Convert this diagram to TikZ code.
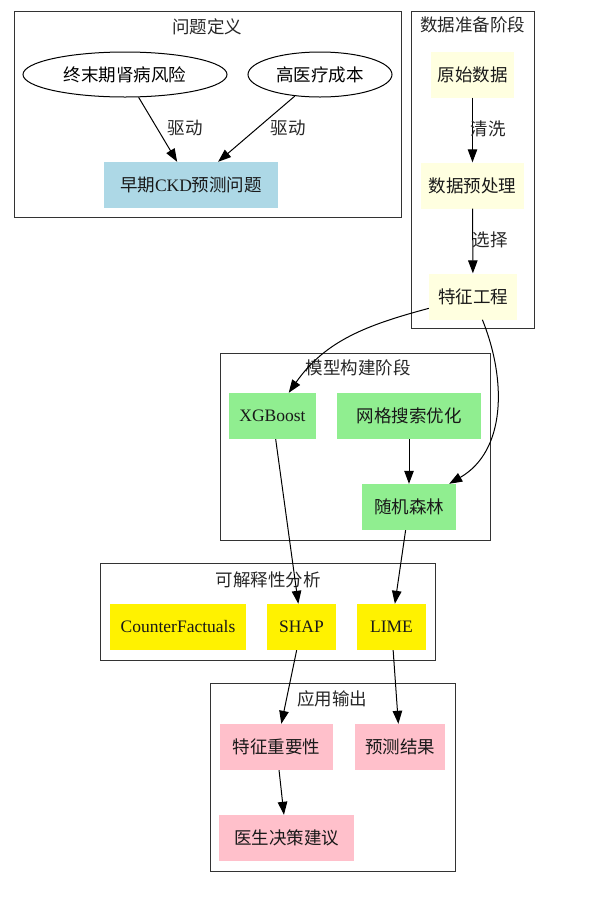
\documentclass[tikz,border=0pt]{standalone}
\usepackage{fontspec}
\setmainfont{Liberation Serif}
\newfontfamily\cjk{Noto Sans CJK SC}
\usetikzlibrary{arrows.meta,shapes.geometric}
\begin{document}
\begin{tikzpicture}[x=1pt,y=-1pt,
  font=\fontsize{17.5}{20}\selectfont,
  cluster/.style={draw=black!80,line width=0.9pt},
  ctitle/.style={inner sep=0pt,font=\fontsize{17.5}{20}\selectfont\cjk,text=black!85},
  nbox/.style={rectangle,inner sep=0pt,minimum height=46pt,text=black!90},
  oval/.style={ellipse,draw,line width=1pt,inner sep=0pt,minimum height=45pt,font=\fontsize{17.5}{20}\selectfont\cjk},
  lbl/.style={inner sep=0pt,font=\fontsize{17.5}{20}\selectfont\cjk,text=black!85},
  arr/.style={-{Triangle[length=13pt,width=9.5pt]},line width=1pt}
]
\useasboundingbox (0,0) rectangle (592,906);
% clusters
\draw[cluster] (14,11) rectangle (401,217);
\node[ctitle] (t1) at (207,27) {问题定义};
\draw[cluster] (411,11) rectangle (534,328);
\node[ctitle] (t2) at (472.5,25) {数据准备阶段};
\draw[cluster] (220,353) rectangle (490,540);
\node[ctitle] (t3) at (358,368) {模型构建阶段};
\draw[cluster] (100,563) rectangle (435,660);
\node[ctitle] (t4) at (268,580) {可解释性分析};
\draw[cluster] (210,683) rectangle (455,871);
\node[ctitle] (t5) at (332,699) {应用输出};
% problem definition
\node[oval,minimum width=204pt] (esrd) at (125,74.5) {终末期肾病风险};
\node[oval,minimum width=144pt] (cost) at (320,74.5) {高医疗成本};
\node[nbox,fill={rgb,255:red,173;green,216;blue,230},minimum width=174pt] (ckd) at (191,185) {{\cjk 早期}CKD{\cjk 预测问题}};
% data preparation
\node[nbox,fill={rgb,255:red,255;green,255;blue,224},minimum width=83pt,font=\fontsize{17.5}{20}\selectfont\cjk] (raw) at (472.5,74.5) {原始数据};
\node[nbox,fill={rgb,255:red,255;green,255;blue,224},minimum width=103pt,font=\fontsize{17.5}{20}\selectfont\cjk] (pre) at (472.5,185.5) {数据预处理};
\node[nbox,fill={rgb,255:red,255;green,255;blue,224},minimum width=88pt,font=\fontsize{17.5}{20}\selectfont\cjk] (feat) at (473,296.5) {特征工程};
% model building
\node[nbox,fill={rgb,255:red,144;green,238;blue,144},minimum width=87pt] (xgb) at (272.5,416) {XGBoost};
\node[nbox,fill={rgb,255:red,144;green,238;blue,144},minimum width=144pt,font=\fontsize{17.5}{20}\selectfont\cjk] (grid) at (409,416) {网格搜索优化};
\node[nbox,fill={rgb,255:red,144;green,238;blue,144},minimum width=94pt,font=\fontsize{17.5}{20}\selectfont\cjk] (rf) at (409,507) {随机森林};
% interpretability
\node[nbox,fill=yellow,minimum width=136pt] (cf) at (178,627) {CounterFactuals};
\node[nbox,fill=yellow,minimum width=69pt] (shap) at (301.5,627) {SHAP};
\node[nbox,fill=yellow,minimum width=69pt] (lime) at (391.5,627) {LIME};
% output
\node[nbox,fill={rgb,255:red,255;green,192;blue,203},minimum width=113pt,font=\fontsize{17.5}{20}\selectfont\cjk] (fi) at (276.5,747) {特征重要性};
\node[nbox,fill={rgb,255:red,255;green,192;blue,203},minimum width=90pt,font=\fontsize{17.5}{20}\selectfont\cjk] (pred) at (400,747) {预测结果};
\node[nbox,fill={rgb,255:red,255;green,192;blue,203},minimum width=135pt,font=\fontsize{17.5}{20}\selectfont\cjk] (doc) at (286.5,838) {医生决策建议};
% edges
\draw[arr] (esrd) -- (ckd);
\draw[arr] (cost) -- (ckd);
\node[lbl] (l1) at (185,128) {驱动};
\node[lbl] (l2) at (288,128) {驱动};
\draw[arr] (raw) -- (pre);
\node[lbl] (l3) at (488,129) {清洗};
\draw[arr] (pre) -- (feat);
\node[lbl] (l4) at (490,240) {选择};
\draw[arr] (feat) to[out=195,in=55] (xgb);
\draw[arr] (feat) to[out=-68,in=30] (rf);
\draw[arr] (grid) -- (rf);
\draw[arr] (xgb) -- (shap);
\draw[arr] (rf) -- (lime);
\draw[arr] (shap) -- (fi);
\draw[arr] (lime) -- (pred);
\draw[arr] (fi) -- (doc);
\end{tikzpicture}
\end{document}
